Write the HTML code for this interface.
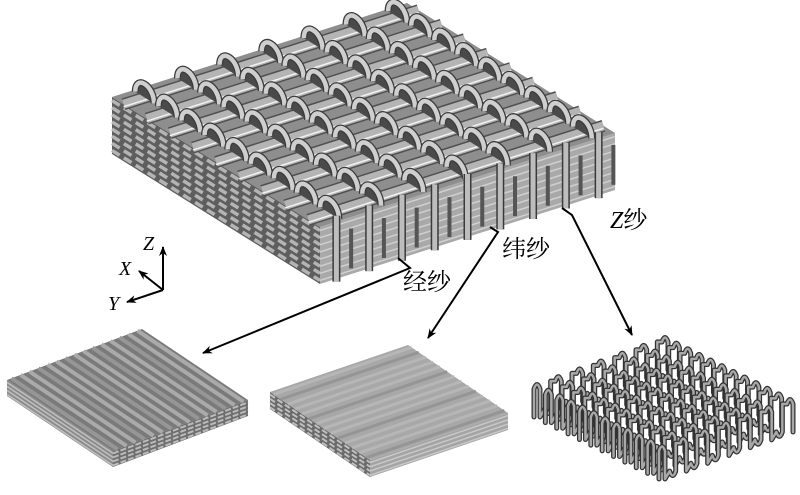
<!DOCTYPE html>
<html><head><meta charset="utf-8"><style>
html,body{margin:0;padding:0;background:#fff;}
svg{display:block;}
text{font-family:"Liberation Serif","Noto Serif CJK SC","Noto Sans CJK SC",serif;}
</style></head><body>
<svg id="s" width="800" height="495" viewBox="0 0 800 495" xmlns="http://www.w3.org/2000/svg">
<defs>
<marker id="ar" markerWidth="10" markerHeight="8" refX="9" refY="4" orient="auto" markerUnits="userSpaceOnUse"><path d="M0,0 L10,4 L0,8 L3,4 z" fill="#000"/></marker>
</defs>
<g id="g"></g>
<polyline points="398,258 410,268 203,353" fill="none" stroke="#000" stroke-width="2" marker-end="url(#ar)"/>
<polyline points="490,227 498,232 428,338" fill="none" stroke="#000" stroke-width="2" marker-end="url(#ar)"/>
<polyline points="562,208 572,215 632,335" fill="none" stroke="#000" stroke-width="2" marker-end="url(#ar)"/>
<text x="403" y="290" font-size="24">经纱</text>
<text x="502" y="257" font-size="24">纬纱</text>
<text x="610" y="228" font-size="24"><tspan font-style="italic">Z</tspan>纱</text>
<line x1="163" y1="290" x2="163" y2="247" stroke="#000" stroke-width="2" marker-end="url(#ar)"/>
<line x1="163" y1="290" x2="139" y2="271" stroke="#000" stroke-width="2" marker-end="url(#ar)"/>
<line x1="163" y1="290" x2="127" y2="302" stroke="#000" stroke-width="2" marker-end="url(#ar)"/>
<text x="143" y="250" font-size="20" font-style="italic">Z</text>
<text x="119" y="275" font-size="20" font-style="italic">X</text>
<text x="108" y="310" font-size="20" font-style="italic">Y</text>
</svg>
<script>
(function(){
var g=document.getElementById('g'),NS='http://www.w3.org/2000/svg';
function el(t,a){var e=document.createElementNS(NS,t);for(var k in a)e.setAttribute(k,a[k]);g.appendChild(e);return e;}
function pts(a){return a.map(function(p){return p[0].toFixed(1)+','+p[1].toFixed(1)}).join(' ');}
function mk(L,T,F,th){var A=[T[0]-L[0],T[1]-L[1]],B=[F[0]-L[0],F[1]-L[1]];return function(u,v,w){return [L[0]+A[0]*u+B[0]*v,L[1]+A[1]*u+B[1]*v+th*w];};}
var P=mk([112,97],[407,3],[320,227],57);
el('polygon',{points:pts([P(0,0,0),P(0,1,0),P(0,1,1),P(0,0,1)]),fill:'#5e5e5e'});
el('polygon',{points:pts([P(0,1,0),P(1,1,0),P(1,1,1),P(0,1,1)]),fill:'#a9a9a9'});
for(var k=0;k<8;k++){var w=(k+0.5)/8;
 var a=P(0,0,w),b=P(0,1,w);
 el('line',{x1:a[0],y1:a[1],x2:b[0],y2:b[1],stroke:'#b4b4b4','stroke-width':3.5,'stroke-dasharray':'9 5'});
 var c=P(0,1,w),d=P(1,1,w);
 el('line',{x1:c[0],y1:c[1],x2:d[0],y2:d[1],stroke:'#d0d0d0','stroke-width':1.5});
}
el('polygon',{points:pts([P(0,0,0),P(1,0,0),P(1,1,0),P(0,1,0)]),fill:'#8e8e8e'});
var NR=9,NA=7;
for(var j=0;j<NR;j++){var v=(j+0.5)/NR;
 var a=P(0,v,0),b=P(1,v,0);
 el('line',{x1:a[0],y1:a[1],x2:b[0],y2:b[1],stroke:'#505050','stroke-width':12});
 el('line',{x1:a[0],y1:a[1],x2:b[0],y2:b[1],stroke:'#b4b4b4','stroke-width':9});
 el('line',{x1:a[0],y1:a[1]+2.5,x2:b[0],y2:b[1]+2.5,stroke:'#f2f2f2','stroke-width':1.5});
}
for(var j=0;j<NR;j++){var v=(j+0.5)/NR;
 for(var i=NA-1;i>=0;i--){var u=(i+0.5)/NA;
  var p1=P(u,v-0.045,0),p2=P(u,v+0.045,0),h=18;
  var d='M'+p1[0]+','+p1[1]+' C'+p1[0]+','+(p1[1]-h)+' '+p2[0]+','+(p2[1]-h)+' '+p2[0]+','+p2[1];
  el('path',{d:d+' Z',fill:'#4a4a4a'});
  el('path',{d:d,fill:'none',stroke:'#3a3a3a','stroke-width':7});
  el('path',{d:d,fill:'none',stroke:'#cfcfcf','stroke-width':4.5});
 }}
for(var i=0;i<9;i++){var u=(i+0.5)/9;
 var a=P(u,1,0),b=P(u,1,1.05);
 el('line',{x1:a[0],y1:a[1]-6,x2:b[0],y2:b[1],stroke:'#3a3a3a','stroke-width':8});
 el('line',{x1:a[0],y1:a[1]-6,x2:b[0],y2:b[1],stroke:'#bdbdbd','stroke-width':5});
 var c=P(u+0.05,1,0.2),d2=P(u+0.05,1,0.9);
 el('line',{x1:c[0],y1:c[1],x2:d2[0],y2:d2[1],stroke:'#555','stroke-width':4});
}
var Q=mk([7,380],[142,329],[113,451],16);
el('polygon',{points:pts([Q(0,0,0),Q(0,1,0),Q(0,1,1),Q(0,0,1)]),fill:'#8a8a8a'});
el('polygon',{points:pts([Q(0,1,0),Q(1,1,0),Q(1,1,1),Q(0,1,1)]),fill:'#6e6e6e'});
for(var k=0;k<4;k++){var w=(k+0.6)/4;var a=Q(0,0,w),b=Q(0,1,w),c=Q(1,1,w);
 el('line',{x1:a[0],y1:a[1],x2:b[0],y2:b[1],stroke:'#c0c0c0','stroke-width':1.5});
 el('line',{x1:b[0],y1:b[1],x2:c[0],y2:c[1],stroke:'#bbb','stroke-width':2,'stroke-dasharray':'6 2'});}
el('polygon',{points:pts([Q(0,0,0),Q(1,0,0),Q(1,1,0),Q(0,1,0)]),fill:'#7a7a7a'});
for(var j=0;j<15;j++){var u=(j+0.5)/15;var a=Q(u,0,0),b=Q(u,1,0);
 el('line',{x1:a[0],y1:a[1],x2:b[0],y2:b[1],stroke:(j%3==0?'#969696':'#aaaaaa'),'stroke-width':4});}
var R=mk([270,392],[408,345],[370,460],17);
el('polygon',{points:pts([R(0,0,0),R(0,1,0),R(0,1,1),R(0,0,1)]),fill:'#6a6a6a'});
el('polygon',{points:pts([R(0,1,0),R(1,1,0),R(1,1,1),R(0,1,1)]),fill:'#a4a4a4'});
for(var k=0;k<4;k++){var w=(k+0.6)/4;var a=R(0,0,w),b=R(0,1,w),c=R(1,1,w);
 el('line',{x1:a[0],y1:a[1],x2:b[0],y2:b[1],stroke:'#c0c0c0','stroke-width':2,'stroke-dasharray':'6 3'});
 el('line',{x1:b[0],y1:b[1],x2:c[0],y2:c[1],stroke:'#c8c8c8','stroke-width':1.5});}
el('polygon',{points:pts([R(0,0,0),R(1,0,0),R(1,1,0),R(0,1,0)]),fill:'#a8a8a8'});
for(var j=0;j<14;j++){var v=(j+0.5)/14;var a=R(0,v,0),b=R(1,v,0);
 el('line',{x1:a[0],y1:a[1],x2:b[0],y2:b[1],stroke:(j%4==1?'#959595':'#b6b6b6'),'stroke-width':3});}
var Z=mk([537,385],[665,338],[662,447],1);
for(var j=0;j<12;j++){var v=j/11;
 var d='';var N=12;
 for(var i=0;i<=N;i++){var u=i/N;var p=Z(u,v,0);
  var ty=p[1], by=p[1]+32;
  if(i==0) d+='M'+(p[0]-3)+','+by;
  var x1=p[0]-3,x2=p[0]+3;
  if(i%2==0){d+=' L'+x1+','+(ty+4)+' Q'+p[0]+','+(ty-5)+' '+x2+','+(ty+4)+' L'+x2+','+by;}
  else{d+=' L'+x1+','+(by-4)+' Q'+p[0]+','+(by+5)+' '+x2+','+(by-4)+' L'+x2+','+ty;}
 }
 el('path',{d:d,fill:'none',stroke:'#333','stroke-width':5,'stroke-linejoin':'round','stroke-linecap':'round'});
 el('path',{d:d,fill:'none',stroke:'#a8a8a8','stroke-width':2.5,'stroke-linejoin':'round','stroke-linecap':'round'});
}
})();
</script>
</body></html>
